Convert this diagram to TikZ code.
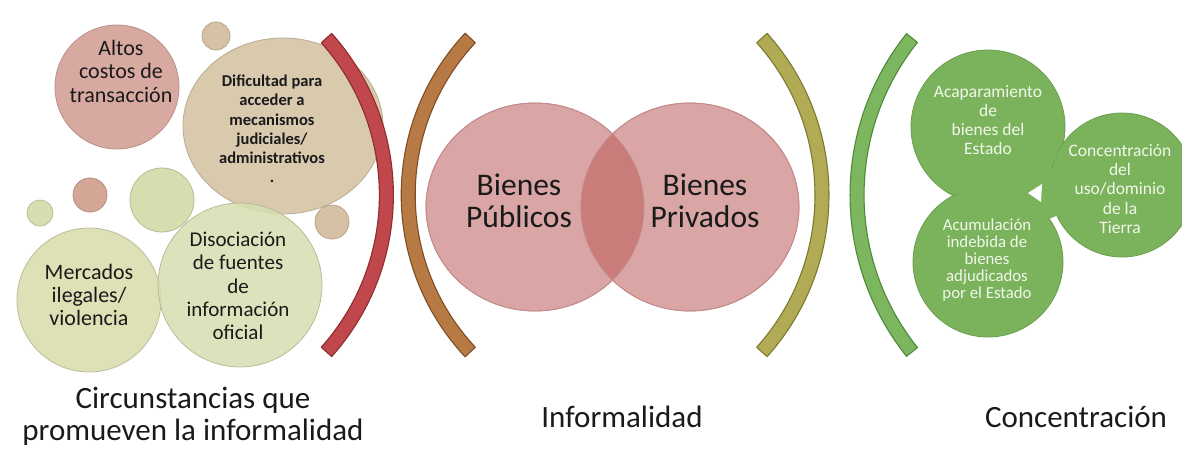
\documentclass[tikz,border=0pt]{standalone}
\usepackage{fontspec}
\setmainfont{Carlito}
\usetikzlibrary{calc,shapes.geometric}
\definecolor{altosc}{HTML}{D8A9A0}
\definecolor{tanc}{HTML}{D9C9AD}
\definecolor{tansm}{HTML}{D7C1A5}
\definecolor{pinksm}{HTML}{D3A696}
\definecolor{paleg}{HTML}{D6DEB0}
\definecolor{mercc}{HTML}{DEE0B5}
\definecolor{venn}{HTML}{D9A5A5}
\definecolor{vennb}{HTML}{C48B8B}
\definecolor{lensc}{HTML}{C97C79}
\definecolor{clover}{HTML}{7BB35C}
\definecolor{cloverb}{HTML}{6A9E4E}
\definecolor{redf}{HTML}{C0484C}
\definecolor{redb}{HTML}{8E2C2E}
\definecolor{brownf}{HTML}{B87A45}
\definecolor{brownb}{HTML}{7D4E26}
\definecolor{olivef}{HTML}{B1AB55}
\definecolor{oliveb}{HTML}{7C7A2F}
\definecolor{greenf}{HTML}{7CB65E}
\definecolor{greenb}{HTML}{4F8A3A}
\definecolor{ink}{HTML}{1A1A1A}
\definecolor{wtext}{HTML}{F2F7EC}
\begin{document}
\begin{tikzpicture}[x=1pt,y=-1pt,
  bub/.style={circle, inner sep=0pt, draw=#1!85!black, line width=0.8pt, fill=#1},
  txt/.style={align=center, inner sep=0pt, text=ink},
  wtxt/.style={align=center, inner sep=0pt, text=wtext},
  band/.style={line width=1.1pt, line join=round}]
\useasboundingbox (0,0) rectangle (1182,449);
% ---- left cluster
\node[bub=pinksm, minimum size=34pt] (s1) at (90,195) {};
\node[bub=paleg, minimum size=64pt] (s2) at (162,200) {};
\node[bub=paleg, minimum size=26pt] (s3) at (40,213) {};
\node[bub=tansm, minimum size=28pt] (s4) at (216,36) {};
\node[bub=tansm, minimum size=34pt] (s5) at (332,222) {};
\node[bub=altosc, minimum size=124pt] (altos) at (117,87) {};
\node[ellipse, inner sep=0pt, minimum width=200pt, minimum height=176pt, fill=tanc, draw=tanc!85!black, line width=0.8pt] (dif) at (283,126) {};
\node[bub=mercc, minimum size=144pt] (merc) at (89,300) {};
\node[circle, inner sep=0pt, minimum size=164pt, fill=paleg, fill opacity=0.85, draw=paleg!85!black, line width=0.8pt] (dis) at (240,285) {};
\node[txt, font=\fontsize{22}{23.5}\selectfont] (taltos) at (121,71) {Altos\\costos de\\transacción};
\node[txt, font=\bfseries\fontsize{16.5}{19.3}\selectfont] (tdif) at (272,129) {Dificultad para\\acceder a\\mecanismos\\judiciales/\\administrativos\\.};
\node[txt, font=\fontsize{21}{23.3}\selectfont] (tdis) at (238,286) {Disociación\\de fuentes\\de\\información\\oficial};
\node[txt, font=\fontsize{22}{22.8}\selectfont] (tmerc) at (89,295) {Mercados\\ilegales/\\violencia};
% ---- arcs
\fill[band, fill=redf, draw=redb] ($(151,195)+(-41.8:242.4)$) arc[start angle=-41.8,end angle=41.8,radius=242.4] -- ($(151,195)+(41.8:228.4)$) arc[start angle=41.8,end angle=-41.8,radius=228.4] -- cycle;
\fill[band, fill=brownf, draw=brownb] ($(638,195)+(136.9:236.8)$) arc[start angle=136.9,end angle=223.1,radius=236.8] -- ($(638,195)+(223.1:222.8)$) arc[start angle=223.1,end angle=136.9,radius=222.8] -- cycle;
\fill[band, fill=olivef, draw=oliveb] ($(587,195)+(-41.9:242)$) arc[start angle=-41.9,end angle=41.9,radius=242] -- ($(587,195)+(41.9:228)$) arc[start angle=41.9,end angle=-41.9,radius=228] -- cycle;
\fill[band, fill=greenf, draw=greenb] ($(1108.6,195)+(141.4:258.6)$) arc[start angle=141.4,end angle=218.6,radius=258.6] -- ($(1108.6,195)+(218.6:244.6)$) arc[start angle=218.6,end angle=141.4,radius=244.6] -- cycle;
% ---- Venn
\node[ellipse, inner sep=0pt, minimum width=218pt, minimum height=208pt, fill=venn, draw=vennb, line width=0.8pt] (pub) at (535,207) {};
\node[ellipse, inner sep=0pt, minimum width=218pt, minimum height=208pt, fill=venn, draw=vennb, line width=0.8pt] (priv) at (690,207) {};
\begin{scope}
  \clip (pub.center) ellipse [x radius=109, y radius=104];
  \fill[lensc] (priv.center) ellipse [x radius=109, y radius=104];
\end{scope}
\draw[vennb, line width=0.8pt] (pub.center) ellipse [x radius=109, y radius=104];
\draw[vennb, line width=0.8pt] (priv.center) ellipse [x radius=109, y radius=104];
\node[txt, font=\fontsize{31.5}{32}\selectfont] (tpub) at (519,201) {Bienes\\Públicos};
\node[txt, font=\fontsize{31.5}{32}\selectfont] (tpriv) at (705,201) {Bienes\\Privados};
% ---- clover
\node[circle, inner sep=0pt, minimum size=154pt, fill=clover, draw=cloverb, line width=0.8pt] (acap) at (988,127) {};
\node[circle, inner sep=0pt, minimum size=150pt, fill=clover, draw=cloverb, line width=0.8pt] (acum) at (988,262) {};
\node[circle, inner sep=0pt, minimum size=144pt, fill=clover, draw=cloverb, line width=0.8pt] (conc) at (1122,185) {};
\fill[clover] (988,127) circle (74) (988,262) circle (72) (1122,185) circle (69);
\fill[clover] (1000,150) -- (1070,175) -- (1070,210) -- (1000,240) -- (975,195) -- cycle;
\fill[white] (1028,193) -- (1042,184) -- (1041,202) -- cycle;
\node[wtxt, font=\fontsize{17.5}{19}\selectfont] (tacap) at (988,120) {Acaparamiento\\de\\bienes del\\Estado};
\node[wtxt, font=\fontsize{17.5}{19.2}\selectfont] (tconc) at (1120,189) {Concentración\\del\\uso/dominio\\de la\\Tierra};
\node[wtxt, font=\fontsize{16.8}{17.2}\selectfont] (tacum) at (987,260) {Acumulación\\indebida de\\bienes\\adjudicados\\por el Estado};
% ---- bottom labels
\node[txt, font=\fontsize{31}{32}\selectfont] (lab1) at (193,416) {Circunstancias que\\promueven la informalidad};
\node[txt, anchor=base, font=\fontsize{31}{33}\selectfont] (lab2) at (622,427) {Informalidad};
\node[txt, anchor=base, font=\fontsize{31}{33}\selectfont] (lab3) at (1076,427) {Concentración};
\end{tikzpicture}
\end{document}
